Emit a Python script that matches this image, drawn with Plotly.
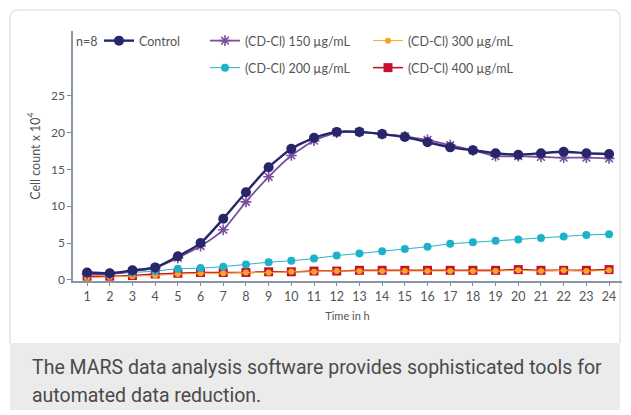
import plotly.graph_objects as go

hours = list(range(1, 25))
control = [1.0, 0.9, 1.3, 1.7, 3.2, 5.0, 8.3, 11.9, 15.3, 17.8, 19.3, 20.1,
           20.1, 19.8, 19.4, 18.7, 18.0, 17.6, 17.2, 17.0, 17.2, 17.4, 17.2, 17.1]
cdcl_150 = [0.8, 0.8, 1.2, 1.6, 3.0, 4.6, 6.8, 10.6, 14.0, 16.9, 18.9, 20.0,
            20.1, 19.8, 19.5, 19.0, 18.3, 17.6, 16.8, 16.8, 16.7, 16.6, 16.6, 16.5]
cdcl_200 = [1.0, 0.8, 1.0, 1.2, 1.5, 1.6, 1.8, 2.1, 2.4, 2.6, 2.9, 3.3,
            3.6, 3.9, 4.2, 4.5, 4.9, 5.1, 5.3, 5.5, 5.7, 5.9, 6.1, 6.2]
cdcl_300 = [0.3, 0.4, 0.5, 0.6, 0.8, 0.9, 0.9, 1.0, 1.0, 1.1, 1.1, 1.2,
            1.2, 1.2, 1.2, 1.2, 1.2, 1.2, 1.2, 1.3, 1.2, 1.3, 1.2, 1.3]
cdcl_400 = [0.5, 0.5, 0.6, 0.8, 0.9, 1.0, 1.0, 1.0, 1.1, 1.1, 1.2, 1.2,
            1.3, 1.3, 1.3, 1.3, 1.3, 1.3, 1.3, 1.4, 1.3, 1.3, 1.3, 1.4]
y_ticks = [0, 5, 10, 15, 20, 25]
caption = ["The MARS data analysis software provides sophisticated tools for",
           "automated data reduction."]

W, H = 631, 415
CF = "Lato, 'Open Sans', sans-serif"
TXT = "#555555"
FS = 12.5

# plot area in pixels
L, R, T, B = 73, 622, 31, 281


def px_(v):
    return (v - L) / (R - L)


def py_(v):
    return (B - v) / (B - T)


fig = go.Figure()


def add(name, y, color, symbol, size, lw, legend, mlw=0, mcolor=None):
    fig.add_trace(go.Scatter(
        x=hours, y=y, name=name, mode="lines+markers",
        line=dict(color=color, width=lw, shape="spline", smoothing=0.6),
        marker=dict(symbol=symbol, size=size, color=color,
                    line=dict(color=mcolor or color, width=mlw)),
        legend=legend))


add("(CD-Cl) 400 µg/mL", cdcl_400, "#c8102e", "square", 9, 1.6, "legend5")
add("(CD-Cl) 300 µg/mL", cdcl_300, "#f5a623", "circle", 6, 1.0, "legend3")
add("(CD-Cl) 200 µg/mL", cdcl_200, "#1cb3c8", "circle", 8, 1.0, "legend4")
add("(CD-Cl) 150 µg/mL", cdcl_150, "#7b4fa0", "asterisk-open", 9, 1.8, "legend2", mlw=1.6)
add("Control", control, "#27266a", "circle", 10, 2.4, "legend")


def leg(px, py):
    return dict(xref="paper", yref="paper", x=px_(px), y=py_(py),
                xanchor="left", yanchor="middle", bgcolor="rgba(0,0,0,0)",
                font=dict(family=CF, size=FS, color=TXT), itemwidth=30,
                borderwidth=0)


fig.update_layout(
    width=W, height=H,
    paper_bgcolor="white", plot_bgcolor="white",
    margin=dict(l=L, r=W - R, t=T, b=H - B, autoexpand=False),
    showlegend=True,
    legend=leg(99, 41),
    legend2=leg(205, 41),
    legend3=leg(368, 41),
    legend4=leg(205, 68),
    legend5=leg(368, 68),
    xaxis=dict(range=[0.38, 24.57], tickvals=hours, ticks="outside", ticklen=3,
               tickcolor="#7a8a9a", showline=True, linecolor="#8a96a3", linewidth=1.5,
               showgrid=False, zeroline=False,
               tickfont=dict(family=CF, size=FS, color=TXT),
               title=dict(text="Time in h", font=dict(family=CF, size=11, color=TXT), standoff=10)),
    yaxis=dict(range=[-0.15, 33.8], tickvals=y_ticks, ticks="outside", ticklen=4,
               tickcolor="#7a8a9a", showline=True, linecolor="#8a96a3", linewidth=1.5,
               showgrid=False, zeroline=False,
               tickfont=dict(family=CF, size=12, color=TXT),
               title=dict(text="Cell count x 10<sup>4</sup>", font=dict(family=CF, size=FS, color=TXT), standoff=8)),
)

r = 8
path = (f"M {px_(10)} {py_(343)} L {px_(10)} {py_(10 + r)} "
        f"Q {px_(10)} {py_(10)} {px_(10 + r)} {py_(10)} "
        f"L {px_(620 - r)} {py_(10)} Q {px_(620)} {py_(10)} {px_(620)} {py_(10 + r)} "
        f"L {px_(620)} {py_(343)}")
fig.add_shape(type="path", xref="paper", yref="paper", path=path, layer="below",
              line=dict(color="#e4e4e4", width=1.5))
fig.add_shape(type="rect", xref="paper", yref="paper",
              x0=px_(10), x1=px_(620), y0=py_(410), y1=py_(343), layer="below",
              fillcolor="#ebebeb", line=dict(width=0))

fig.add_annotation(xref="paper", yref="paper", x=px_(74), y=py_(41), text="n=8",
                   showarrow=False, xanchor="left", yanchor="middle",
                   font=dict(family=CF, size=FS, color=TXT))
for i, line in enumerate(caption):
    fig.add_annotation(xref="paper", yref="paper", x=px_(30), y=py_(368 + 27 * i),
                       text=line, showarrow=False, xanchor="left",
                       yanchor="middle", align="left",
                       font=dict(family="Roboto, sans-serif", size=19.5, color="#4a4a4a"))

fig.write_html("out.html", config={"displayModeBar": False},
               post_script="document.body.style.margin='0';document.body.style.overflow='hidden';")
